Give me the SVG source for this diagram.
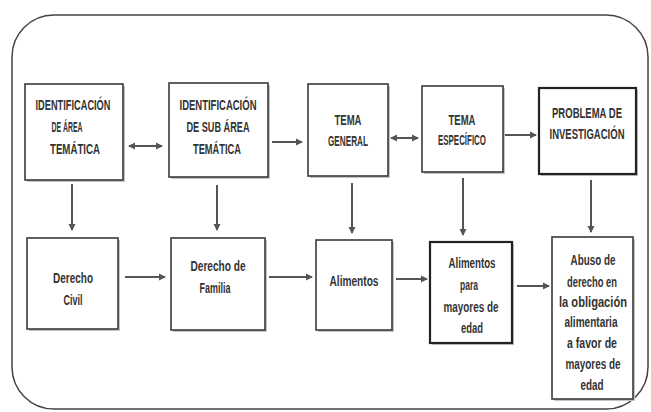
<svg xmlns="http://www.w3.org/2000/svg" width="651" height="412" viewBox="0 0 651 412">
<defs>
<style>
.bx{fill:#fff;stroke:#3a3a3a;stroke-width:1.6}
.bxd{fill:#fff;stroke:#222;stroke-width:2.2}
.sh{fill:#c4c4c4}
.t{font-family:"Liberation Sans",Arial,sans-serif;font-size:14px;font-weight:bold;fill:#333;text-anchor:middle}
.c{stroke:#555;stroke-width:2;fill:none}
</style>
<marker id="ah" markerWidth="8" markerHeight="8" refX="6" refY="4" orient="auto" markerUnits="userSpaceOnUse">
<path d="M0,0.5 L7,4 L0,7.5 z" fill="#555"/>
</marker>
<marker id="as" markerWidth="8" markerHeight="8" refX="1" refY="4" orient="auto" markerUnits="userSpaceOnUse">
<path d="M7,0.5 L0,4 L7,7.5 z" fill="#555"/>
</marker>
</defs>
<rect width="651" height="412" fill="#fff"/>
<rect x="12" y="15" width="636" height="394" rx="42" ry="42" fill="none" stroke="#444" stroke-width="1.5"/>

<g id="n1">
<rect class="sh" x="27" y="86" width="98" height="96"/>
<rect class="bx" x="25" y="84" width="98" height="96"/>
<text class="t" x="73" y="110" textLength="75" lengthAdjust="spacingAndGlyphs">IDENTIFICACIÓN</text>
<text class="t" x="67" y="132" textLength="31" lengthAdjust="spacingAndGlyphs">DE ÁREA</text>
<text class="t" x="75" y="154" textLength="50" lengthAdjust="spacingAndGlyphs">TEMÁTICA</text>
</g>
<g id="n2">
<rect class="sh" x="171" y="85" width="99" height="94"/>
<rect class="bx" x="169" y="83" width="99" height="94"/>
<text class="t" x="218" y="110" textLength="77" lengthAdjust="spacingAndGlyphs">IDENTIFICACIÓN</text>
<text class="t" x="218" y="132" textLength="63" lengthAdjust="spacingAndGlyphs">DE SUB ÁREA</text>
<text class="t" x="217" y="154" textLength="48" lengthAdjust="spacingAndGlyphs">TEMÁTICA</text>
</g>
<g id="n3">
<rect class="sh" x="310" y="86" width="80" height="92"/>
<rect class="bx" x="308" y="84" width="80" height="92"/>
<text class="t" x="348" y="125" textLength="27" lengthAdjust="spacingAndGlyphs">TEMA</text>
<text class="t" x="348" y="146" textLength="40" lengthAdjust="spacingAndGlyphs">GENERAL</text>
</g>
<g id="n4">
<rect class="sh" x="424" y="88" width="81" height="86"/>
<rect class="bx" x="422" y="86" width="81" height="86"/>
<text class="t" x="462" y="125" textLength="27" lengthAdjust="spacingAndGlyphs">TEMA</text>
<text class="t" x="462" y="145" textLength="48" lengthAdjust="spacingAndGlyphs">ESPECÍFICO</text>
</g>
<g id="n5">
<rect class="sh" x="541" y="90" width="97" height="86"/>
<rect class="bxd" x="539" y="88" width="97" height="86"/>
<text class="t" x="587" y="118" textLength="70" lengthAdjust="spacingAndGlyphs">PROBLEMA DE</text>
<text class="t" x="587" y="139" textLength="75" lengthAdjust="spacingAndGlyphs">INVESTIGACIÓN</text>
</g>

<g id="n6">
<rect class="sh" x="29" y="240" width="91" height="91"/>
<rect class="bx" x="27" y="238" width="91" height="91"/>
<text class="t" x="73" y="283" textLength="40" lengthAdjust="spacingAndGlyphs">Derecho</text>
<text class="t" x="73" y="305" textLength="19" lengthAdjust="spacingAndGlyphs">Civil</text>
</g>
<g id="n7">
<rect class="sh" x="173" y="240" width="94" height="92"/>
<rect class="bx" x="171" y="238" width="94" height="92"/>
<text class="t" x="218" y="271" textLength="55" lengthAdjust="spacingAndGlyphs">Derecho de</text>
<text class="t" x="215" y="293" textLength="31" lengthAdjust="spacingAndGlyphs">Familia</text>
</g>
<g id="n8">
<rect class="sh" x="318" y="242" width="76" height="90"/>
<rect class="bx" x="316" y="240" width="76" height="90"/>
<text class="t" x="354" y="286" textLength="49" lengthAdjust="spacingAndGlyphs">Alimentos</text>
</g>
<g id="n9">
<rect class="sh" x="432" y="244" width="82" height="101"/>
<rect class="bxd" x="430" y="242" width="82" height="101"/>
<text class="t" x="472" y="268" textLength="47" lengthAdjust="spacingAndGlyphs">Alimentos</text>
<text class="t" x="469" y="290" textLength="18" lengthAdjust="spacingAndGlyphs">para</text>
<text class="t" x="471" y="312" textLength="55" lengthAdjust="spacingAndGlyphs">mayores de</text>
<text class="t" x="472" y="333" textLength="22" lengthAdjust="spacingAndGlyphs">edad</text>
</g>
<g id="n10">
<rect class="sh" x="554" y="239" width="81" height="162"/>
<rect class="bx" x="552" y="237" width="81" height="162"/>
<text class="t" x="593" y="265" textLength="45" lengthAdjust="spacingAndGlyphs">Abuso de</text>
<text class="t" x="592" y="287" textLength="50" lengthAdjust="spacingAndGlyphs">derecho en</text>
<text class="t" x="593" y="307" textLength="68" lengthAdjust="spacingAndGlyphs">la obligación</text>
<text class="t" x="591" y="327" textLength="53" lengthAdjust="spacingAndGlyphs">alimentaria</text>
<text class="t" x="592" y="348" textLength="50" lengthAdjust="spacingAndGlyphs">a favor de</text>
<text class="t" x="593" y="369" textLength="55" lengthAdjust="spacingAndGlyphs">mayores de</text>
<text class="t" x="592" y="390" textLength="23" lengthAdjust="spacingAndGlyphs">edad</text>
</g>

<g id="connectors">
<line class="c" x1="129" y1="146" x2="162" y2="146" marker-start="url(#as)" marker-end="url(#ah)"/>
<line class="c" x1="272" y1="142" x2="302" y2="142" marker-end="url(#ah)"/>
<line class="c" x1="391" y1="138" x2="418" y2="138" marker-start="url(#as)" marker-end="url(#ah)"/>
<line class="c" x1="505" y1="135" x2="536" y2="135" marker-end="url(#ah)"/>

<line class="c" x1="72" y1="184" x2="72" y2="230" marker-end="url(#ah)"/>
<line class="c" x1="217" y1="185" x2="217" y2="230" marker-end="url(#ah)"/>
<line class="c" x1="352" y1="183" x2="352" y2="233" marker-end="url(#ah)"/>
<line class="c" x1="463" y1="178" x2="463" y2="235" marker-end="url(#ah)"/>
<line class="c" x1="591" y1="180" x2="591" y2="232" marker-end="url(#ah)"/>

<line class="c" x1="125" y1="277" x2="165" y2="277" marker-end="url(#ah)"/>
<line class="c" x1="269" y1="277" x2="312" y2="277" marker-end="url(#ah)"/>
<line class="c" x1="396" y1="279" x2="427" y2="279" marker-end="url(#ah)"/>
<line class="c" x1="517" y1="286" x2="549" y2="286" marker-end="url(#ah)"/>
</g>
</svg>
